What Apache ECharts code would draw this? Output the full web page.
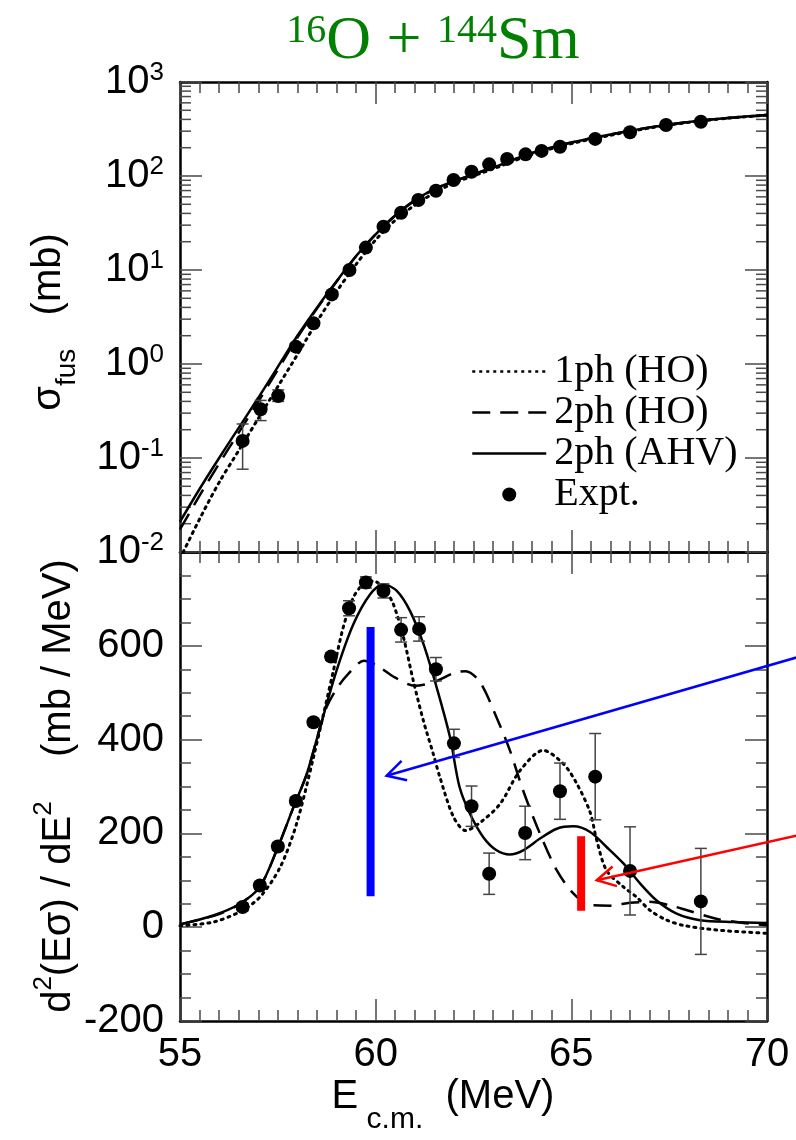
<!DOCTYPE html>
<html>
<head>
<meta charset="utf-8">
<script src="https://cdn.jsdelivr.net/npm/echarts@6/dist/echarts.min.js"></script>
<style>html,body{margin:0;padding:0;background:#fff}#c{width:796px;height:1140px}</style>
</head>
<body>
<div id="c"></div>
<script>
// ---------------- data ----------------
// x-axis ticks (MeV)
const xTickValues = [55, 60, 65, 70];
// Top panel: fusion cross section (mb)
const topExpE     = [56.60,57.06,57.51,57.96,58.41,58.88,59.33,59.75,60.20,60.65,61.09,61.54,61.99,62.45,62.90,63.36,63.83,64.24,64.71,65.61,66.50,67.42,68.31];
const topExpSigma = [0.152,0.33,0.457,1.53,2.71,5.5,10.0,17.3,28.9,40.7,55.6,69.8,90.7,111,133,152,170,185,205,248,292,349,378];
const topExpLo    = [0.076,0.25,0.40,1.42,2.55,5.25,9.6,16.7,28.0,39.6,54.2,68.1,88.6,108.5,130,149,167,181.5,201,243.5,286.5,343,372];
const topExpHi    = [0.23,0.41,0.53,1.65,2.88,5.77,10.4,17.9,29.8,41.8,57.0,71.5,92.8,113.5,136,155,173,188.5,209,252.5,297.5,355,384];

const topCurveE   = [55,55.5,56,56.5,57,57.5,58,58.5,59,59.5,60,60.5,61,61.5,62,63,64,65,66,67,68,69,70];
const sig1phHO    = [0.0085,0.0224,0.055,0.120,0.263,0.575,1.26,2.82,5.89,11.5,20.9,33.9,49.0,66.1,84.1,119,170,221,271,324,372,412,444];
const sig2phHO    = [0.0174,0.0398,0.0871,0.186,0.398,0.871,1.91,3.89,7.5,14.0,24.0,38.0,55.0,72.4,88,123,176,227,277,329,376,414,446];
const sig2phAHV   = [0.0210,0.0468,0.100,0.209,0.437,0.933,2.00,3.98,7.59,14.1,24.0,38.0,55.0,72.4,88,123,176,227,277,329,376,414,446];

// Bottom panel: barrier distribution (mb/MeV)
const botExpE   = [56.60,57.04,57.50,57.96,58.41,58.86,59.32,59.75,60.20,60.65,61.11,61.54,62.00,62.45,62.90,63.82,64.71,65.61,66.50,68.31];
const botExpD   = [43,89,172,269,437,577,680,735,717,634,636,550,392,258,114,201,290,321,120,55];
const botExpErr = [8,8,8,8,7,8,16,12,15,26,26,25,30,43,44,57,60,92,94,113];

const dAHV_E = [55,55.85,56.53,57.04,57.47,57.9,58.24,58.58,59.0,59.43,59.86,60.2,60.54,60.88,61.22,61.56,61.9,62.14,62.41,62.75,63.09,63.43,63.77,64.2,64.63,65.05,65.48,65.9,66.33,66.76,67.18,67.69,68.29,69.14,70];
const dAHV   = [6,25,50,86,164,256,327,426,547,646,710,731,717,674,604,511,405,300,242,192,164,155,164,189,210,215,203,171,136,93,57,29,15,11,9];

const d1ph_E = [55,55.85,56.53,57.04,57.56,57.98,58.41,58.92,59.17,59.43,59.68,59.94,60.2,60.45,60.71,60.96,61.22,61.47,61.64,61.99,62.3,62.7,63.18,63.69,64.28,64.8,65.14,65.48,65.65,65.9,66.33,66.67,67.01,67.44,67.86,68.71,70];
const d1ph   = [3,11,33,64,128,221,362,547,639,703,731,738,724,689,618,526,440,370,320,235,206,225,263,334,377,348,306,245,185,121,86,64,36,15,4,-6,-13];

const d2ph_E = [55,56,56.53,57.04,57.47,57.9,58.24,58.58,58.75,59.0,59.3,59.7,60.05,60.5,61.0,61.5,62.0,62.3,62.67,63.09,63.43,63.77,64.2,64.63,65.05,65.48,66.0,66.5,67.0,67.5,68.0,68.7,69.3,70];
const d2ph   = [6,28,50,86,164,256,327,426,470,508,540,568,557,532,515,523,542,546,522,447,377,291,199,121,72,47,46,52,54,47,35,18,10,4];

// Annotations: eigen-barrier weights and arrows [E, lo, hi] / [E0, D0, E1, D1]
const blueBar   = [59.87, 66, 640];
const redBar    = [65.25, 35, 194];
const blueArrow = [71.0, 581, 60.28, 323];
const redArrow  = [71.0, 200, 65.65, 100];

// log-axis minor tick values (2..9 x decade)
const logMinor = [];
for (let d = -2; d <= 2; d++) for (let k = 2; k <= 9; k++) logMinor.push(+(k * Math.pow(10, d)).toPrecision(3));

// ---------------- chart ----------------
const chart = echarts.init(document.getElementById('c'), null, {renderer: 'canvas'});
const SANS = 'Liberation Sans';
const SERIF = 'Liberation Serif';
const TICK = '#4a4a4a';
const zip = (a, b) => a.map((v, i) => [v, b[i]]);

const axisLine = {show: true, onZero: false, lineStyle: {color: '#000', width: 2.5}};
function xAxisDef(grid, pos, labels) {
  return {
    type: 'value', gridIndex: grid, position: pos, min: 55, max: 70, interval: 5,
    axisLine: axisLine,
    axisTick: {show: true, inside: true, length: 22, lineStyle: {color: TICK, width: 1.5}},
    minorTick: {show: true, splitNumber: 10, length: 11, lineStyle: {color: TICK, width: 1.5}},
    splitLine: {show: false}, minorSplitLine: {show: false},
    axisLabel: labels ? {show: true, margin: 14, fontSize: 40, fontFamily: SANS, color: '#000'} : {show: false}
  };
}
function logAxisDef(pos, labels) {
  return {
    type: 'log', logBase: 10, gridIndex: 0, position: pos, min: 0.01, max: 1000,
    axisLine: axisLine,
    axisTick: {show: true, inside: true, length: 22, lineStyle: {color: TICK, width: 1.5}},
    splitLine: {show: false},
    axisLabel: labels ? {
      show: true, margin: 16,
      formatter: v => '{b|10}{e|' + Math.round(Math.log10(v)) + '}',
      rich: {
        b: {fontSize: 40, fontFamily: SANS, color: '#000', lineHeight: 44},
        e: {fontSize: 26, fontFamily: SANS, color: '#000', verticalAlign: 'top', lineHeight: 26}
      }
    } : {show: false}
  };
}
function linAxisDef(pos, labels) {
  return {
    type: 'value', gridIndex: 1, position: pos, min: -200, max: 800, interval: 200,
    axisLine: axisLine,
    axisTick: {show: true, inside: true, length: 22, lineStyle: {color: TICK, width: 1.5}},
    minorTick: {show: true, splitNumber: 4, length: 11, lineStyle: {color: TICK, width: 1.5}},
    splitLine: {show: false}, minorSplitLine: {show: false},
    axisLabel: labels ? {show: true, margin: 16, fontSize: 40, fontFamily: SANS, color: '#000', showMaxLabel: false} : {show: false}
  };
}

function errRender(params, api) {
  const x = api.value(0);
  const a = api.coord([x, api.value(1)]);
  const b = api.coord([x, api.value(2)]);
  const w = 6, st = {stroke: '#444', lineWidth: 1.5};
  return {type: 'group', children: [
    {type: 'line', shape: {x1: a[0], y1: a[1], x2: b[0], y2: b[1]}, style: st},
    {type: 'line', shape: {x1: a[0] - w, y1: a[1], x2: a[0] + w, y2: a[1]}, style: st},
    {type: 'line', shape: {x1: b[0] - w, y1: b[1], x2: b[0] + w, y2: b[1]}, style: st}
  ]};
}
function minorLogRender(params, api) {
  const v = api.value(1);
  const L = api.coord([55, v]), R = api.coord([70, v]);
  const st = {stroke: TICK, lineWidth: 1.5};
  return {type: 'group', children: [
    {type: 'line', shape: {x1: L[0], y1: L[1], x2: L[0] + 11, y2: L[1]}, style: st},
    {type: 'line', shape: {x1: R[0], y1: R[1], x2: R[0] - 11, y2: R[1]}, style: st}
  ]};
}
function barRender(color) {
  return function (params, api) {
    const a = api.coord([api.value(0), api.value(1)]);
    const b = api.coord([api.value(0), api.value(2)]);
    return {type: 'rect', shape: {x: a[0] - 4, y: b[1], width: 8, height: a[1] - b[1]}, style: {fill: color}};
  };
}
function arrowRender(color) {
  return function (params, api) {
    const s = api.coord([api.value(0), api.value(1)]);
    const t = api.coord([api.value(2), api.value(3)]);
    const ang = Math.atan2(s[1] - t[1], s[0] - t[0]);
    const L = 21, da = 0.5;
    const p1 = [t[0] + L * Math.cos(ang + da), t[1] + L * Math.sin(ang + da)];
    const p2 = [t[0] + L * Math.cos(ang - da), t[1] + L * Math.sin(ang - da)];
    const st = {stroke: color, lineWidth: 2.5, fill: null};
    return {type: 'group', children: [
      {type: 'line', shape: {x1: s[0], y1: s[1], x2: t[0], y2: t[1]}, style: st},
      {type: 'polyline', shape: {points: [p1, t, p2]}, style: st}
    ]};
  };
}

const dottedStyle = {color: '#000', width: 3, type: [2, 5], cap: 'round'};
const dashedStyle = {color: '#000', width: 2.5, type: [18, 10]};
const solidStyle  = {color: '#000', width: 2.5, type: 'solid'};
const noSym = {opacity: 0};

const option = {
  backgroundColor: '#fff',
  animation: false,
  grid: [
    {left: 180, top: 82, width: 587, height: 470},
    {left: 180, top: 552, width: 587, height: 469}
  ],
  xAxis: [xAxisDef(0, 'bottom', false), xAxisDef(0, 'top', false), xAxisDef(1, 'bottom', true), xAxisDef(1, 'top', false)],
  yAxis: [logAxisDef('left', true), logAxisDef('right', false), linAxisDef('left', true), linAxisDef('right', false)],
  legend: {
    orient: 'vertical', left: 466, top: 346, itemWidth: 74, itemHeight: 14, itemGap: 0,
    selectedMode: false,
    data: [
      {name: '1ph (HO)', itemStyle: noSym, lineStyle: {width: 2.5, type: [3, 4], cap: 'butt'}},
      {name: '2ph (HO)', itemStyle: noSym, lineStyle: {width: 2.5, type: [18, 10]}},
      {name: '2ph (AHV)', itemStyle: noSym, lineStyle: {width: 2.5}},
      {name: 'Expt.', itemStyle: {opacity: 1}}
    ],
    textStyle: {fontFamily: SERIF, fontSize: 40, lineHeight: 41, color: '#000', padding: [0, 0, 0, 3]}
  },
  graphic: [
    {type: 'text', x: 433, y: 42, style: {
      text: '{s|16}{b|O + }{s|144}{b|Sm}', align: 'center', verticalAlign: 'middle',
      rich: {
        b: {fontSize: 62, fontFamily: SERIF, fill: '#008000', lineHeight: 62},
        s: {fontSize: 40, fontFamily: SERIF, fill: '#008000', verticalAlign: 'top', lineHeight: 40}
      }}},
    {type: 'text', x: 443, y: 1106, style: {
      text: '{e|E}{s| c.m.}{e|  (MeV)}', align: 'center', verticalAlign: 'middle',
      rich: {
        e: {fontSize: 40, fontFamily: SANS, fill: '#000', lineHeight: 58, verticalAlign: 'top'},
        s: {fontSize: 30, fontFamily: SANS, fill: '#000', verticalAlign: 'bottom', lineHeight: 30}
      }}},
    {type: 'text', x: 55, y: 322, rotation: Math.PI / 2, style: {
      text: '{t|σ}{s|fus}{t|   (mb)}', align: 'center', verticalAlign: 'middle',
      rich: {
        t: {fontSize: 40, fontFamily: SANS, fill: '#000', lineHeight: 52, verticalAlign: 'top'},
        s: {fontSize: 28, fontFamily: SANS, fill: '#000', verticalAlign: 'bottom', lineHeight: 28}
      }}},
    {type: 'text', x: 55, y: 786, rotation: Math.PI / 2, style: {
      text: '{t|d}{p|2}{t|(Eσ) / dE}{p|2}{t|    (mb / MeV)}', align: 'center', verticalAlign: 'middle',
      rich: {
        t: {fontSize: 40, fontFamily: SANS, fill: '#000', lineHeight: 48, verticalAlign: 'bottom'},
        p: {fontSize: 26, fontFamily: SANS, fill: '#000', verticalAlign: 'top', lineHeight: 26}
      }}}
  ],
  series: [
    // top panel
    {type: 'custom', xAxisIndex: 0, yAxisIndex: 0, renderItem: minorLogRender, data: logMinor.map(v => [55, v]), encode: {x: 0, y: 1}, silent: true, z: 1},
    {name: '1ph (HO)', type: 'line', xAxisIndex: 0, yAxisIndex: 0, data: zip(topCurveE, sig1phHO), showSymbol: false, symbol: 'none', smooth: 0.3, lineStyle: dottedStyle, itemStyle: {color: '#000'}, z: 2},
    {name: '2ph (HO)', type: 'line', xAxisIndex: 0, yAxisIndex: 0, data: zip(topCurveE, sig2phHO), showSymbol: false, symbol: 'none', smooth: 0.3, lineStyle: dashedStyle, itemStyle: {color: '#000'}, z: 2},
    {name: '2ph (AHV)', type: 'line', xAxisIndex: 0, yAxisIndex: 0, data: zip(topCurveE, sig2phAHV), showSymbol: false, symbol: 'none', smooth: 0.3, lineStyle: solidStyle, itemStyle: {color: '#000'}, z: 2},
    {type: 'custom', xAxisIndex: 0, yAxisIndex: 0, renderItem: errRender, data: topExpE.map((e, i) => [e, topExpLo[i], topExpHi[i]]), encode: {x: 0, y: [1, 2]}, z: 3},
    {name: 'Expt.', type: 'scatter', xAxisIndex: 0, yAxisIndex: 0, data: zip(topExpE, topExpSigma), symbol: 'circle', symbolSize: 14, itemStyle: {color: '#000', opacity: 1}, z: 4},
    // bottom panel
    {name: '1ph (HO)', type: 'line', xAxisIndex: 2, yAxisIndex: 2, data: zip(d1ph_E, d1ph), showSymbol: false, symbol: 'none', smooth: 0.3, lineStyle: dottedStyle, z: 2},
    {name: '2ph (HO)', type: 'line', xAxisIndex: 2, yAxisIndex: 2, data: zip(d2ph_E, d2ph), showSymbol: false, symbol: 'none', smooth: 0.3, lineStyle: dashedStyle, z: 2},
    {name: '2ph (AHV)', type: 'line', xAxisIndex: 2, yAxisIndex: 2, data: zip(dAHV_E, dAHV), showSymbol: false, symbol: 'none', smooth: 0.3, lineStyle: solidStyle, z: 2},
    {type: 'custom', xAxisIndex: 2, yAxisIndex: 2, renderItem: errRender, data: botExpE.map((e, i) => [e, botExpD[i] - botExpErr[i], botExpD[i] + botExpErr[i]]), encode: {x: 0, y: [1, 2]}, z: 3},
    {name: 'Expt.', type: 'scatter', xAxisIndex: 2, yAxisIndex: 2, data: zip(botExpE, botExpD), symbol: 'circle', symbolSize: 14, itemStyle: {color: '#000', opacity: 1}, z: 4},
    // annotations
    {type: 'custom', xAxisIndex: 2, yAxisIndex: 2, renderItem: barRender('#0000ff'), data: [blueBar], encode: {x: 0, y: [1, 2]}, z: 5, silent: true},
    {type: 'custom', xAxisIndex: 2, yAxisIndex: 2, renderItem: barRender('#ff0000'), data: [redBar], encode: {x: 0, y: [1, 2]}, z: 5, silent: true},
    {type: 'custom', xAxisIndex: 2, yAxisIndex: 2, renderItem: arrowRender('#0000ff'), data: [blueArrow], encode: {x: [0, 2], y: [1, 3]}, z: 6, silent: true, clip: false},
    {type: 'custom', xAxisIndex: 2, yAxisIndex: 2, renderItem: arrowRender('#ff0000'), data: [redArrow], encode: {x: [0, 2], y: [1, 3]}, z: 6, silent: true, clip: false}
  ]
};
chart.setOption(option);
</script>
</body>
</html>
